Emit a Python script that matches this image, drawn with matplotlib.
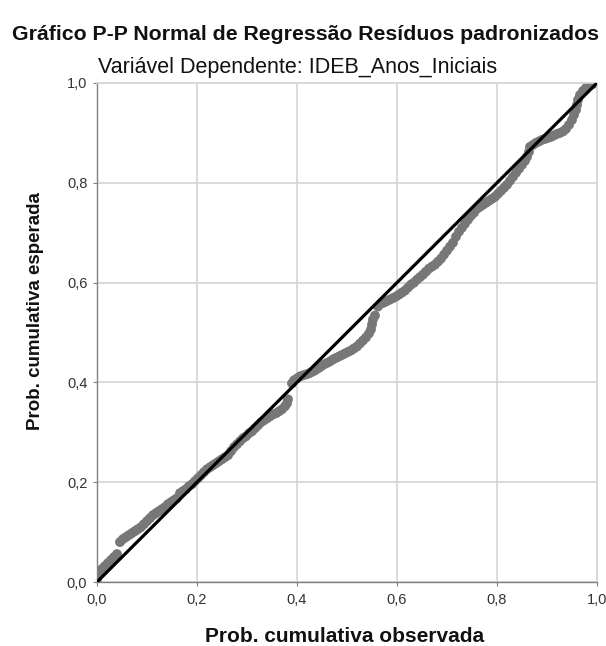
import matplotlib
matplotlib.use("Agg")
import matplotlib.pyplot as plt
from matplotlib.ticker import FuncFormatter

plt.rcParams['font.family'] = ['Liberation Sans', 'DejaVu Sans']

title = "Gráfico P-P Normal de Regressão Resíduos padronizados"
subtitle = "Variável Dependente: IDEB_Anos_Iniciais"
xlabel = "Prob. cumulativa observada"
ylabel = "Prob. cumulativa esperada"
ticks = [0.0, 0.2, 0.4, 0.6, 0.8, 1.0]

obs = [0.000, 0.000, 0.004, 0.010, 0.016, 0.022, 0.028, 0.034, 0.040, 0.046, 0.052, 0.058, 0.064, 0.070,
       0.076, 0.082, 0.088, 0.094, 0.100, 0.106, 0.112, 0.118, 0.124, 0.130, 0.136, 0.142, 0.148, 0.154,
       0.160, 0.166, 0.172, 0.178, 0.184, 0.190, 0.196, 0.202, 0.208, 0.214, 0.220, 0.226, 0.232, 0.238,
       0.244, 0.250, 0.256, 0.262, 0.268, 0.274, 0.280, 0.286, 0.292, 0.298,
       0.304, 0.310, 0.316, 0.322, 0.328, 0.334, 0.340, 0.346, 0.352, 0.358, 0.364, 0.370, 0.376, 0.380,
       0.382, 0.390, 0.394, 0.400, 0.406, 0.412, 0.418, 0.424, 0.430, 0.436, 0.442, 0.448, 0.454, 0.460,
       0.466, 0.472, 0.478, 0.484, 0.490, 0.496, 0.502, 0.508, 0.514, 0.520, 0.526, 0.532, 0.538, 0.544,
       0.548, 0.550, 0.552, 0.556, 0.562, 0.568, 0.574, 0.580, 0.586, 0.592, 0.598, 0.604, 0.610, 0.616,
       0.622, 0.628, 0.634, 0.640, 0.646, 0.652, 0.658, 0.664, 0.670, 0.676, 0.682, 0.688, 0.694, 0.700,
       0.706, 0.712, 0.718, 0.724, 0.730, 0.736, 0.742, 0.748, 0.754, 0.760, 0.766, 0.772, 0.778, 0.784,
       0.790, 0.796, 0.802, 0.808, 0.814, 0.820, 0.826, 0.832, 0.838, 0.844, 0.850, 0.856, 0.860, 0.864,
       0.866, 0.872, 0.878, 0.884, 0.890, 0.896, 0.902, 0.908, 0.914, 0.920, 0.926, 0.932, 0.938, 0.944,
       0.950, 0.954, 0.958, 0.960, 0.962, 0.966, 0.972, 0.978, 0.984, 0.990, 0.996]

exp = [0.005, 0.015, 0.020, 0.026, 0.032, 0.038, 0.044, 0.050, 0.056, 0.080, 0.086, 0.090, 0.094, 0.098,
       0.102, 0.106, 0.110, 0.116, 0.122, 0.128, 0.134, 0.138, 0.142, 0.146, 0.150, 0.156, 0.160, 0.164,
       0.168, 0.178, 0.182, 0.186, 0.192, 0.196, 0.202, 0.208, 0.214, 0.220, 0.226, 0.230, 0.234, 0.238,
       0.242, 0.246, 0.250, 0.254, 0.262, 0.270, 0.276, 0.282, 0.288, 0.292,
       0.298, 0.302, 0.308, 0.314, 0.320, 0.324, 0.328, 0.332, 0.336, 0.338, 0.342, 0.346, 0.352, 0.358,
       0.366, 0.398, 0.404, 0.408, 0.412, 0.414, 0.416, 0.418, 0.421, 0.424, 0.428, 0.432, 0.436, 0.439,
       0.442, 0.446, 0.449, 0.452, 0.455, 0.458, 0.461, 0.464, 0.468, 0.472, 0.478, 0.484, 0.490, 0.498,
       0.506, 0.516, 0.526, 0.534, 0.552, 0.558, 0.560, 0.563, 0.566, 0.569, 0.572, 0.576, 0.580, 0.584,
       0.590, 0.596, 0.600, 0.606, 0.611, 0.616, 0.622, 0.628, 0.632, 0.636, 0.642, 0.648, 0.656, 0.664,
       0.672, 0.680, 0.692, 0.702, 0.710, 0.718, 0.726, 0.734, 0.740, 0.748, 0.752, 0.756, 0.760, 0.764,
       0.768, 0.772, 0.778, 0.784, 0.790, 0.796, 0.804, 0.812, 0.820, 0.828, 0.836, 0.844, 0.852, 0.862,
       0.872, 0.876, 0.880, 0.883, 0.886, 0.888, 0.890, 0.892, 0.895, 0.898, 0.900, 0.903, 0.908, 0.916,
       0.926, 0.936, 0.946, 0.956, 0.966, 0.976, 0.984, 0.990, 0.994, 0.997, 1.000]

fig = plt.figure(figsize=(6.06, 6.46), dpi=100)
ax = fig.add_axes([97/606, 1 - 582/646, 500/606, 499/646])

ax.scatter(obs, exp, s=50, color='#777777', edgecolors='none', zorder=2)
ax.plot([0, 1], [0, 1], color='black', lw=2.3, zorder=3, solid_capstyle='butt')

ax.set_xlim(0, 1)
ax.set_ylim(0, 1)
ax.set_xticks(ticks)
ax.set_yticks(ticks)
fmt = FuncFormatter(lambda v, p: f"{v:.1f}".replace('.', ','))
ax.xaxis.set_major_formatter(fmt)
ax.yaxis.set_major_formatter(fmt)
ax.grid(True, color='#d4d4d4', lw=1.2, zorder=0)
ax.set_axisbelow(True)
for s in ['left', 'bottom']:
    ax.spines[s].set_color('#808080')
    ax.spines[s].set_linewidth(1.0)
for s in ['top', 'right']:
    ax.spines[s].set_color('#d4d4d4')
    ax.spines[s].set_linewidth(1.2)
ax.tick_params(axis='both', length=3, color='#808080', labelsize=10.5, labelcolor='#333333')
ax.tick_params(axis='x', pad=5)
ax.tick_params(axis='y', pad=4)

fig.text(305/606, 1 - 35/646, title, ha='center', va='center', fontsize=15.3, fontweight='bold', color='#111111')
fig.text(298/606, 1 - 67/646, subtitle, ha='center', va='center', fontsize=15.5, color='#111111')
fig.text(345/606, 1 - 636/646, xlabel, ha='center', va='center', fontsize=15, fontweight='bold', color='#111111')
fig.text(36/606, 1 - 311/646, ylabel, ha='center', va='center', rotation=90, fontsize=13.5, fontweight='bold', color='#111111')

fig.savefig('out.png', dpi=100)
